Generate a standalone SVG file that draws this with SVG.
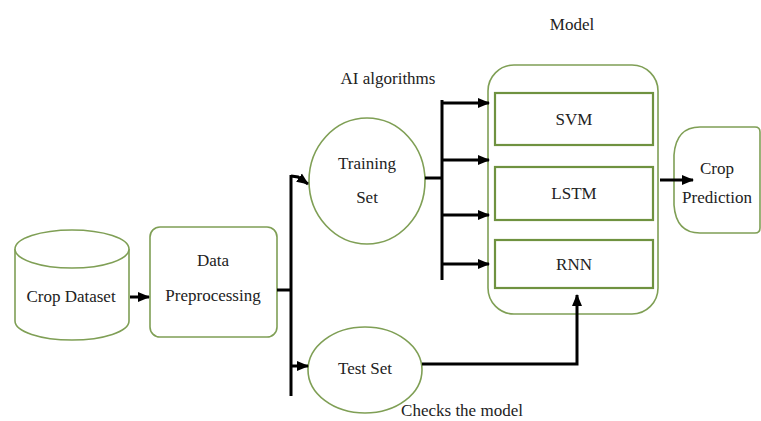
<svg xmlns="http://www.w3.org/2000/svg" width="761" height="421" viewBox="0 0 761 421">
<defs>
<marker id="ah" markerUnits="userSpaceOnUse" markerWidth="12" markerHeight="12" viewBox="0 0 12 12" refX="11" refY="6" orient="auto">
<path d="M0,1 L12,6 L0,11 Z" fill="#000"/>
</marker>
</defs>
<style>
.sh{fill:#fff;stroke:#7f9f55;stroke-width:1.6}
.in{fill:#fff;stroke:#6f9240;stroke-width:2.2}
text{font-family:'Liberation Serif','Times New Roman',serif;font-size:17px;fill:#222;text-anchor:middle}
.c{fill:none;stroke:#000;stroke-width:3}
</style>
<rect width="761" height="421" fill="#fff"/>
<g id="crop-dataset">
<path class="sh" d="M15,249 L15,321 A57,19 0 0 0 129,321 L129,249"/>
<ellipse class="sh" cx="72" cy="249" rx="57" ry="19"/>
<text x="71" y="302">Crop Dataset</text>
</g>
<g id="data-preprocessing">
<rect class="sh" x="150" y="227" width="127" height="110" rx="10"/>
<text x="213" y="266">Data</text>
<text x="213" y="301">Preprocessing</text>
</g>
<g id="training-set">
<ellipse class="sh" cx="367" cy="181" rx="58" ry="63"/>
<text x="367" y="169">Training</text>
<text x="367" y="203">Set</text>
</g>
<g id="test-set">
<ellipse class="sh" cx="365" cy="370" rx="57" ry="43"/>
<text x="365" y="374">Test Set</text>
</g>
<g id="model">
<rect class="sh" x="488" y="65" width="170" height="249" rx="26"/>
<rect class="in" x="495" y="93" width="158" height="52"/>
<text x="574" y="125">SVM</text>
<rect class="in" x="495" y="167" width="158" height="53"/>
<text x="574" y="199">LSTM</text>
<rect class="in" x="495" y="240" width="158" height="48"/>
<text x="574" y="270">RNN</text>
<text x="572" y="30">Model</text>
</g>
<g id="crop-prediction">
<path class="sh" d="M700,127 L755,127 Q760,127 760,132 L760,228 Q760,233 755,233 L700,233 Q676,233 674,205 L674,155 Q676,127 700,127 Z"/>
<text x="717" y="174">Crop</text>
<text x="717" y="203">Prediction</text>
</g>
<g id="labels">
<text x="388" y="84">AI algorithms</text>
<text x="462" y="416">Checks the model</text>
</g>
<g id="connectors">
<line class="c" x1="130" y1="297" x2="149" y2="297" marker-end="url(#ah)"/>
<line class="c" x1="277" y1="290" x2="291" y2="290"/>
<line class="c" x1="291" y1="175" x2="291" y2="396"/>
<path class="c" d="M291,176 L298,177 L308,184" marker-end="url(#ah)"/>
<line class="c" x1="291" y1="366" x2="308" y2="366" marker-end="url(#ah)"/>
<line class="c" x1="425" y1="178" x2="442" y2="178"/>
<line class="c" x1="442" y1="100" x2="442" y2="280"/>
<line class="c" x1="442" y1="103" x2="489" y2="103" marker-end="url(#ah)"/>
<line class="c" x1="442" y1="160" x2="489" y2="160" marker-end="url(#ah)"/>
<line class="c" x1="442" y1="215" x2="489" y2="215" marker-end="url(#ah)"/>
<line class="c" x1="442" y1="264" x2="489" y2="264" marker-end="url(#ah)"/>
<path class="c" d="M422,364 L577,364 L577,295" marker-end="url(#ah)"/>
<line class="c" x1="660" y1="180" x2="693" y2="180" marker-end="url(#ah)"/>
</g>
</svg>
